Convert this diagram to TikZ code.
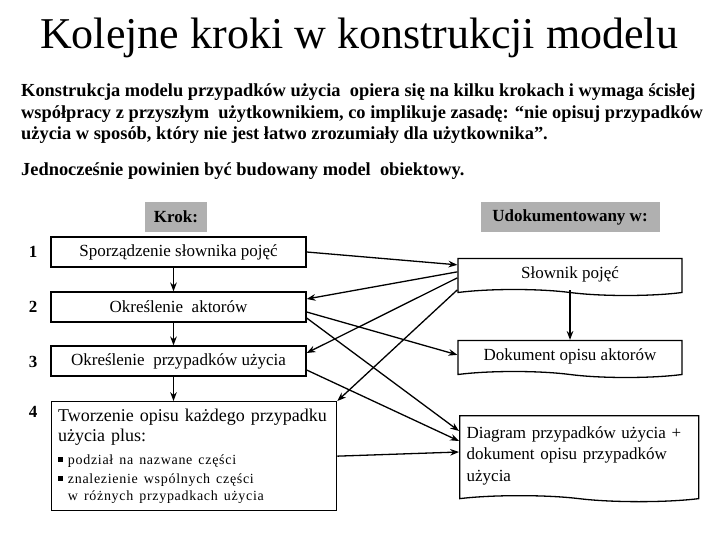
\documentclass[tikz,border=0pt]{standalone}
\usepackage{fontspec}
\setmainfont{Liberation Serif}
\usetikzlibrary{arrows.meta,shapes.symbols}
\definecolor{hdrgray}{RGB}{176,176,176}
\newcommand{\sqbullet}{\rule[0.2em]{0.35em}{0.35em}\hspace{0.35em}}
\newcommand{\bulfont}{\fontsize{14}{19}\selectfont\addfontfeature{LetterSpace=5}}

\begin{document}
\begin{tikzpicture}[>=Stealth,x=1pt,y=-1pt]
    \tikzstyle{stepbox}=[rectangle,draw,line width=1.3pt,minimum width=255pt,minimum height=30pt,inner sep=0pt,font=\fontsize{17}{20}\selectfont]
    \tikzstyle{docbox}=[tape,draw,line width=1.3pt,tape bend top=none,tape bend bottom=out and in,tape bend height=6pt,inner sep=0pt,font=\fontsize{17}{21.5}\selectfont]
    \tikzstyle{header}=[fill=hdrgray,inner sep=0pt,minimum height=30pt,font=\fontsize{17}{20}\selectfont\bfseries]
    \tikzstyle{num}=[font=\fontsize{17}{20}\selectfont\bfseries]
    \tikzstyle{link}=[line width=1.3pt,->]
    \useasboundingbox (0,0) rectangle (720,540);
    % title and text
    \node[anchor=base] (title) at (359,49) {\fontsize{44}{48}\selectfont Kolejne kroki w konstrukcji modelu};
    \node[anchor=base west,align=left,inner sep=0pt,font=\fontsize{18.4}{21.5}\selectfont\bfseries] (intro) at (21,140) {%
      Konstrukcja modelu przypadków użycia \ opiera się na kilku krokach i wymaga ścisłej\\
      współpracy z przyszłym \ użytkownikiem, co implikuje zasadę: “nie opisuj przypadków\\
      użycia w sposób, który nie jest łatwo zrozumiały dla użytkownika”.};
    \node[anchor=base west,inner sep=0pt,font=\fontsize{18.4}{21.5}\selectfont\bfseries] (obj) at (21,176) {Jednocześnie powinien być budowany model \ obiektowy.};
    % headers
    \node[header,minimum width=62pt] (krok) at (176,217) {Krok:};
    \node[header,minimum width=179pt] (udok) at (570,217) {Udokumentowany w:};
    % steps
    \node[num] (n1) at (33,252) {1};
    \node[num] (n2) at (33,307) {2};
    \node[num] (n3) at (33,362) {3};
    \node[num] (n4) at (33,412) {4};
    \node[stepbox] (b1) at (178.5,252) {Sporządzenie słownika pojęć};
    \node[stepbox] (b2) at (178.5,307) {Określenie \ aktorów};
    \node[stepbox] (b3) at (178.5,361) {Określenie \ przypadków użycia};
    \node[stepbox,anchor=north west,minimum width=285pt,minimum height=109pt,text width=272pt,align=left,inner sep=6pt,font=\fontsize{18}{20}\selectfont] (b4) at (51,401) {%
      Tworzenie opisu każdego przypadku\\
      użycia plus:\\[4pt]
      \bulfont\sqbullet podział na nazwane części\\
      \bulfont\sqbullet znalezienie wspólnych części\\[-3pt]
      \bulfont\hspace*{0.7em}w różnych przypadkach użycia};
    % documents
    \node[docbox,minimum width=224pt,minimum height=37pt] (slow) at (570,274) {Słownik pojęć};
    \node[docbox,minimum width=224pt,minimum height=37pt] (dok) at (570,356) {Dokument opisu aktorów};
    \node[docbox,minimum width=239pt,minimum height=86pt,anchor=north west,text width=225pt,align=left,inner sep=6pt] (diag) at (459,415) {Diagram przypadków użycia +\\ dokument opisu przypadków\\ użycia};
    % connectors
    \draw[link] ([xshift=-5pt]b1.south) -- ([xshift=-5pt]b2.north);
    \draw[link] ([xshift=-5pt]b2.south) -- ([xshift=-5pt]b3.north);
    \draw[link] ([xshift=-5pt]b3.south) -- ([xshift=-5pt]b3.south |- b4.north);
    \draw[link] (slow.south) -- (dok.north);
    \draw[link] (b1.east) -- ([yshift=-7pt]slow.north west);
    \draw[link] ([yshift=-14pt]slow.north west) -- ([yshift=8pt]b2.east);
    \draw[link] ([yshift=-20pt]slow.north west) -- ([yshift=8pt]b3.east);
    \draw[link] ([yshift=-32pt]slow.north west) -- (b4.north east);
    \draw[link] ([yshift=-5pt]b2.east) -- ([yshift=-15pt]dok.north west);
    \draw[link] ([yshift=-11pt]b2.east) -- ([yshift=-16pt]diag.north west);
    \draw[link] ([yshift=-9pt]b3.east) -- ([yshift=-26pt]diag.north west);
    \draw[link] (b4.east) -- ([yshift=-37pt]diag.north west);
\end{tikzpicture}
\end{document}
